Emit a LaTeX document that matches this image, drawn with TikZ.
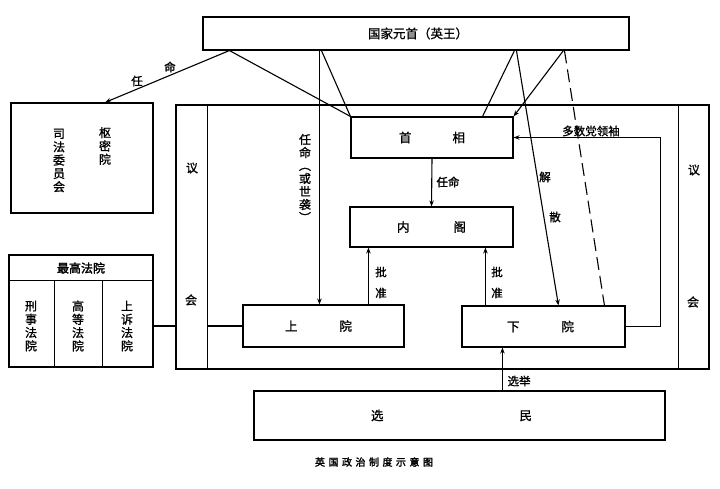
\documentclass[tikz,border=0pt]{standalone}
\usepackage{fontspec}
\newfontfamily\cjk[FakeBold=1.2]{Noto Sans CJK SC}
\newfontfamily\cjkb[FakeBold=2.2]{Noto Sans CJK SC}
\usetikzlibrary{arrows.meta,calc}
\begin{document}
\begin{tikzpicture}[x=1pt,y=-1pt,line width=1.1pt,
  box/.style={draw,rectangle,inner sep=0pt,font=\cjk\fontsize{12.5}{14}\selectfont},
  frame/.style={draw,rectangle,inner sep=0pt},
  arr/.style={-{Stealth[length=6pt,width=4.5pt]}},
  lbl/.style={font=\cjk\fontsize{11.5}{13}\selectfont,inner sep=0pt},
  vtxt/.style={font=\cjk\fontsize{12}{13.3}\selectfont,align=center,inner sep=0pt},
  dashline/.style={dash pattern=on 13pt off 6pt}]
\useasboundingbox (0,0) rectangle (720,489);

% boxes
\node[box,minimum width=426,minimum height=33] (king) at (416,33.5) {\hspace{4pt}国家元首（英王）};
\node[frame,minimum width=142,minimum height=110] (privy) at (82,158) {};
\node[vtxt] (privyA) at (105,146) {枢\\密\\院};
\node[vtxt] (privyB) at (59,160.5) {司\\法\\委\\员\\会};

\node[frame,minimum width=533,minimum height=264] (parl) at (442.5,237) {};
\draw ($(parl.north west)+(32,0)$) -- ($(parl.south west)+(32,0)$);
\draw ($(parl.north east)+(-31,0)$) -- ($(parl.south east)+(-31,0)$);
\node[lbl,font=\cjk\fontsize{12}{14}\selectfont] (yi1) at (192,168) {议};
\node[lbl,font=\cjk\fontsize{12}{14}\selectfont] (hui1) at (191,300) {会};
\node[lbl,font=\cjk\fontsize{12}{14}\selectfont] (yi2) at (694,170) {议};
\node[lbl,font=\cjk\fontsize{12}{14}\selectfont] (hui2) at (693,302) {会};

\node[box,minimum width=162,minimum height=41] (pm) at (432,137.5) {首\hspace{41pt}相};
\node[box,minimum width=163,minimum height=40] (cab) at (431.5,227) {内\hspace{44pt}阁};
\node[box,minimum width=161,minimum height=42] (upper) at (323.5,326) {\hspace{-10pt}上\hspace{42pt}院};
\node[box,minimum width=163,minimum height=41] (lower) at (543.5,326.5) {\hspace{-6pt}下\hspace{42pt}院};
\node[box,minimum width=411,minimum height=49] (voters) at (459.5,415.5) {\hspace{-16pt}选\hspace{136pt}民};

% supreme court
\node[frame,minimum width=144,minimum height=112] (court) at (81,311) {};
\draw ($(court.north west)+(0,26)$) -- ($(court.north east)+(0,26)$);
\draw ($(court.north west)+(46,26)$) -- ($(court.south west)+(46,0)$);
\draw ($(court.north west)+(94,26)$) -- ($(court.south west)+(94,0)$);
\node[inner sep=0pt,font=\cjkb\fontsize{12}{14}\selectfont] (courtT) at (81,268) {最高法院};
\node[vtxt] (c1) at (31,326) {刑\\事\\法\\院};
\node[vtxt] (c2) at (78,326) {高\\等\\法\\院};
\node[vtxt] (c3) at (127,326) {上\\诉\\法\\院};

% connectors from the king
\coordinate (kA) at ($(king.south west)+(27,0)$);
\coordinate (kB) at ($(king.south west)+(117,0)$);
\coordinate (kC) at ($(king.south west)+(312,0)$);
\coordinate (kD) at ($(king.south west)+(361,0)$);
\draw[arr] (kA) -- ($(privy.north)+(23,0)$);
\node[lbl] (ren1) at (137,81) {任};
\node[lbl] (ming1) at (170,67) {命};
\draw (kA) -- (pm.north west);
\draw ($(kB)+(2,0)$) -- (pm.north west);
\draw[arr] (kB) -- (kB |- upper.north);
\node[vtxt,font=\cjk\fontsize{12}{13}\selectfont] (appt) at (305,178) {任\\命\\︵\\或\\世\\袭\\︶};
\draw (kC) -- ($(pm.north east)+(-31,0)$);
\draw[arr] (kD) -- (pm.north east);
\draw[arr] ($(kC)+(2,0)$) -- ($(lower.north west)+(97,0)$);
\draw[dashline] ($(kD)+(1,0)$) -- ($(lower.north west)+(143,0)$);
\node[lbl] (jie) at (545,177) {解};
\node[lbl] (san) at (555,217) {散};

% inner connectors
\draw[arr] (pm.south) -- (cab.north);
\node[lbl,anchor=west] (renming) at (436,182) {任命};
\coordinate (u1) at ($(upper.north west)+(126,0)$);
\draw[arr] (u1) -- (u1 |- cab.south);
\node[lbl] (pi1) at (381,272) {批};
\node[lbl] (zhun1) at (381,293) {准};
\coordinate (l1) at ($(lower.north west)+(24,0)$);
\draw[arr] (l1) -- (l1 |- cab.south);
\node[lbl] (pi2) at (497,272) {批};
\node[lbl] (zhun2) at (497,293) {准};
\draw[arr] (lower.east) -- ++(35,0) |- (pm.east);
\node[lbl] (maj) at (591,131) {多数党领袖};
\coordinate (v1) at ($(voters.north west)+(249,0)$);
\draw[arr] (v1) -- (v1 |- lower.south);
\node[lbl,anchor=west] (xuanju) at (507,381) {选举};

% court to parliament
\coordinate (pl) at (parl.west |- upper.west);
\draw (court.east |- upper.west) -- (pl);
\draw ($(pl)+(32,0)$) -- (upper.west);

% caption
\node[inner sep=0pt,font=\cjkb\fontsize{10}{12}\selectfont] (cap) at (374,462)
  {英\hspace{3.5pt}国\hspace{3.5pt}政\hspace{3.5pt}治\hspace{3.5pt}制\hspace{3.5pt}度\hspace{3.5pt}示\hspace{3.5pt}意\hspace{3.5pt}图};
\end{tikzpicture}
\end{document}
